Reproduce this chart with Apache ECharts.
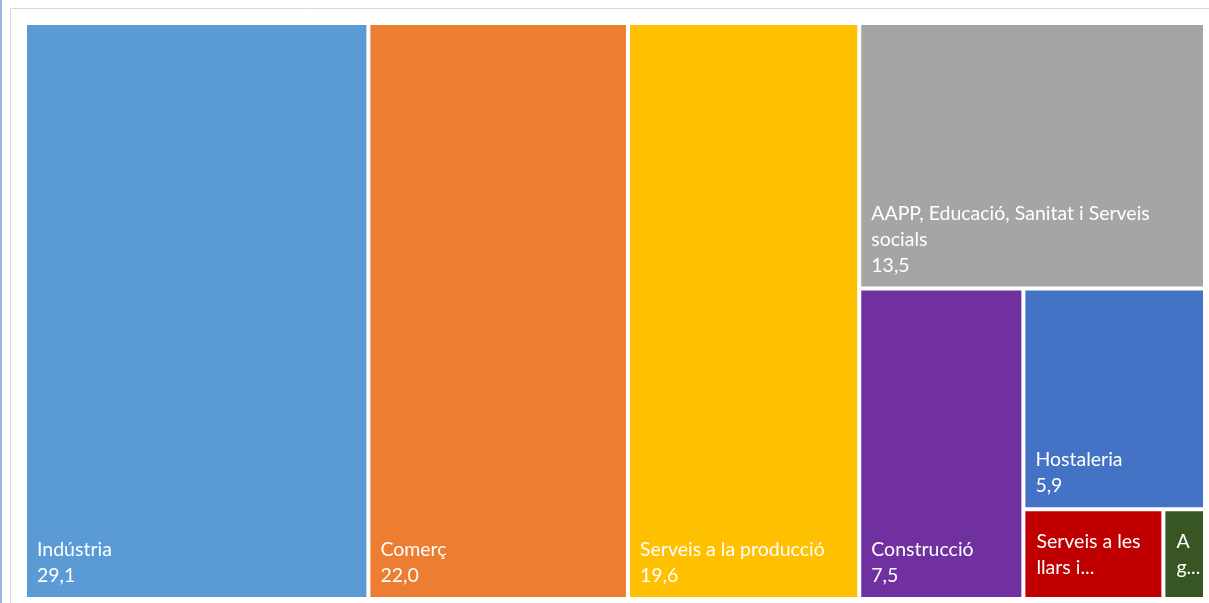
<!DOCTYPE html>
<html>
<head>
<meta charset="utf-8">
<script src="https://cdn.jsdelivr.net/npm/echarts@6/dist/echarts.min.js"></script>
<style>
html,body{margin:0;padding:0;background:#fff;}
#chart{width:1209px;height:603px;}
</style>
</head>
<body>
<div id="chart"></div>
<script>
// Data
const categories = ['Indústria', 'Comerç', 'Serveis a la producció', 'AAPP, Educació, Sanitat i Serveis socials', 'Construcció', 'Hostaleria', 'Serveis a les llars i...', 'Agricultura'];
const values = [29.1, 22.0, 19.6, 13.5, 7.5, 5.9, 1.85, 0.55];
const displayLabels = ['Indústria', 'Comerç', 'Serveis a la producció', 'AAPP, Educació, Sanitat i Serveis socials', 'Construcció', 'Hostaleria', 'Serveis a les\nllars i...', 'A\ng...'];
const showValue = [true, true, true, true, true, true, false, false];
const colors = ['#5B9BD5', '#ED7D31', '#FFC000', '#A5A5A5', '#7030A0', '#4472C4', '#C00000', '#375623'];

const fmt = v => v.toFixed(1).replace('.', ',');

const data = categories.map((name, i) => ({
  name: name,
  value: values[i],
  itemStyle: { color: colors[i] },
  label: showValue[i]
    ? { formatter: displayLabels[i] + '\n' + fmt(values[i]) }
    : { formatter: displayLabels[i], overflow: 'none', padding: [0, 0, 16, 11] }
}));

const chart = echarts.init(document.getElementById('chart'), null, { renderer: 'canvas' });
chart.setOption({
  animation: false,
  graphic: [
    { type: 'rect', shape: { x: 0, y: 0, width: 2, height: 603 }, style: { fill: '#9fb4e3' }, silent: true },
    { type: 'rect', shape: { x: 10.5, y: 8.5, width: 1220, height: 620 }, style: { fill: 'none', stroke: '#d9d9d9', lineWidth: 1 }, silent: true }
  ],
  series: [{
    type: 'treemap',
    left: 27,
    top: 25,
    width: 1176,
    height: 572,
    squareRatio: 0.65,
    roam: false,
    nodeClick: false,
    breadcrumb: { show: false },
    levels: [
      { itemStyle: { borderWidth: 0, gapWidth: 4, borderColor: '#fff' } },
      { itemStyle: { borderWidth: 0, gapWidth: 0 } }
    ],
    label: {
      show: true,
      position: 'insideBottomLeft',
      distance: 0,
      padding: [0, 6, 8, 10],
      color: '#fff',
      fontFamily: 'Lato, "Open Sans", sans-serif',
      fontSize: 19.5,
      lineHeight: 26,
      overflow: 'break'
    },
    data: data
  }]
});
</script>
</body>
</html>
